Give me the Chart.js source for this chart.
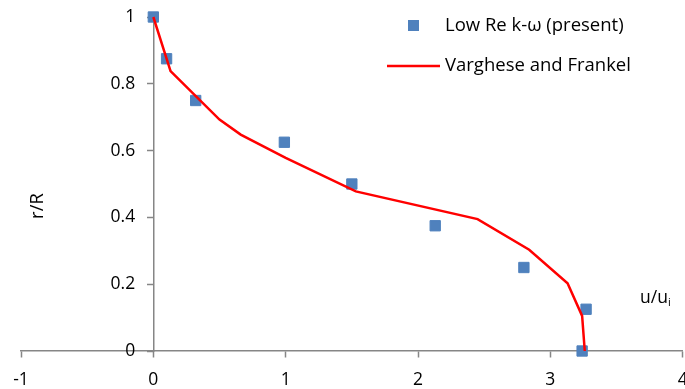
<!DOCTYPE html>
<html>
<head>
<meta charset="utf-8">
<script src="https://cdn.jsdelivr.net/npm/chart.js@4"></script>
<style>
  html, body { margin: 0; padding: 0; background: #fff; overflow: hidden; }
  #wrap { width: 685px; height: 389px; position: relative; overflow: hidden; }
  #grafico { display: block; }
</style>
</head>
<body>
<div id="wrap"><canvas id="grafico" width="691" height="389"></canvas></div>
<script>
// Datos
const presenteU = [0, 0.10, 0.32, 0.99, 1.50, 2.13, 2.80, 3.27, 3.24];
const presenteR = [1, 0.875, 0.75, 0.625, 0.5, 0.375, 0.25, 0.125, 0];
const vfU = [0, 0.13, 0.50, 0.66, 1.0, 1.53, 2.45, 2.84, 3.13, 3.24, 3.26];
const vfR = [1, 0.838, 0.693, 0.648, 0.578, 0.478, 0.395, 0.303, 0.203, 0.105, 0];
const ticksX = [-1, 0, 1, 2, 3, 4];
const ticksY = [0, 0.2, 0.4, 0.6, 0.8, 1];
const etiquetas = ['Low Re k-\u03c9 (present)', 'Varghese and Frankel'];

const fuente = '"Open Sans", sans-serif';
const gris = '#868686';

// Leyenda y títulos de ejes dibujados a mano
const extras = {
  id: 'extras',
  afterDraw(chart) {
    const ctx = chart.ctx;
    const [pts, linea] = chart.data.datasets;
    ctx.save();
    ctx.font = '18.5px ' + fuente;
    ctx.textBaseline = 'middle';
    ctx.textAlign = 'left';

    ctx.fillStyle = pts.backgroundColor;
    ctx.fillRect(408, 20, 11, 11);
    ctx.fillStyle = '#000';
    ctx.fillText(pts.label, 445, 26);

    ctx.strokeStyle = linea.borderColor;
    ctx.lineWidth = 2.5;
    ctx.beginPath();
    ctx.moveTo(387, 66);
    ctx.lineTo(440, 66);
    ctx.stroke();
    ctx.fillText(linea.label, 445, 66);

    // u/u_i
    ctx.font = '17.5px ' + fuente;
    ctx.fillText('u/u', 640, 298);
    const w = ctx.measureText('u/u').width;
    ctx.font = '11px ' + fuente;
    ctx.fillText('i', 640 + w, 303);

    // r/R
    ctx.font = '18.5px ' + fuente;
    ctx.translate(38, 206);
    ctx.rotate(-Math.PI / 2);
    ctx.textAlign = 'center';
    ctx.fillText('r/R', 0, 0);
    ctx.restore();
  }
};

const sinPadding = s => { s.paddingLeft = 0; s.paddingRight = 0; s.paddingTop = 0; s.paddingBottom = 0; };

new Chart(document.getElementById('grafico'), {
  type: 'scatter',
  data: {
    datasets: [{
      label: etiquetas[0],
      data: presenteU.map((u, i) => ({ x: u, y: presenteR[i] })),
      backgroundColor: '#4F81BD',
      borderColor: '#4F81BD',
      borderWidth: 1,
      pointStyle: 'rect',
      pointRadius: 7.3,
      showLine: false,
      clip: false,
      order: 2
    }, {
      label: etiquetas[1],
      data: vfU.map((u, i) => ({ x: u, y: vfR[i] })),
      borderColor: '#FF0000',
      borderWidth: 2.5,
      pointRadius: 0,
      showLine: true,
      tension: 0,
      clip: false,
      order: 1
    }]
  },
  options: {
    responsive: false,
    animation: false,
    events: [],
    layout: { padding: { left: 21, right: 2, top: 17, bottom: 38 } },
    plugins: { legend: { display: false }, tooltip: { enabled: false } },
    scales: {
      x: {
        type: 'linear',
        position: { y: 0 },
        min: -1, max: 4,
        afterBuildTicks: s => { s.ticks = ticksX.map(v => ({ value: v })); },
        afterFit: sinPadding,
        grid: { display: true, drawOnChartArea: false, drawTicks: true, tickLength: 6, tickColor: gris, tickWidth: 1.5 },
        border: { display: true, color: gris, width: 1.5 },
        ticks: { color: '#000', padding: 13, font: { family: fuente, size: 17.5 }, maxRotation: 0 }
      },
      y: {
        type: 'linear',
        position: { x: 0 },
        min: 0, max: 1,
        afterBuildTicks: s => { s.ticks = ticksY.map(v => ({ value: v })); },
        afterFit: sinPadding,
        grid: { display: true, drawOnChartArea: false, drawTicks: true, tickLength: 6, tickColor: gris, tickWidth: 1.5 },
        border: { display: true, color: gris, width: 1.5 },
        ticks: {
          color: '#000',
          font: { family: fuente, size: 17.5 },
          // espacios al final para separar la etiqueta del eje
          callback: v => String(+v.toFixed(1)) + '    '
        }
      }
    }
  },
  plugins: [extras]
});
</script>
</body>
</html>
